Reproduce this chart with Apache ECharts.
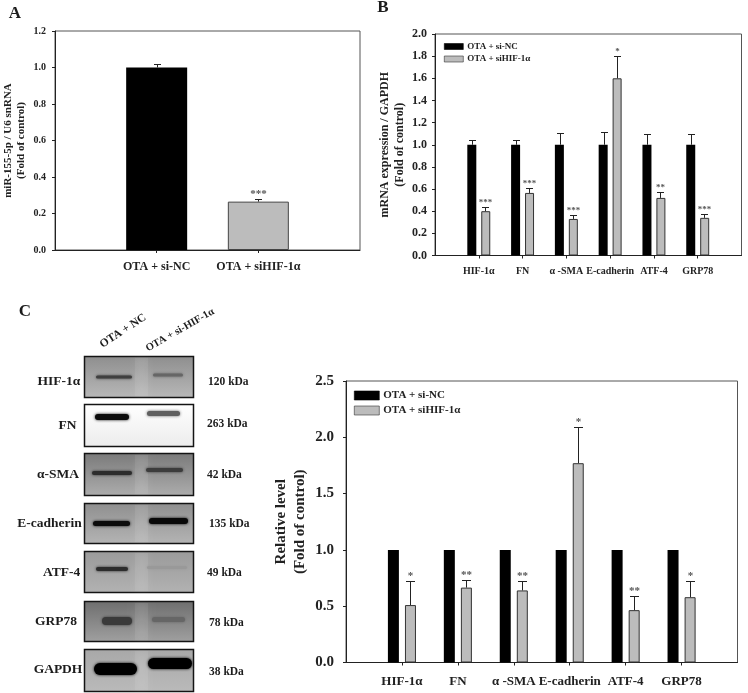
<!DOCTYPE html>
<html>
<head>
<meta charset="utf-8">
<style>html,body{margin:0;padding:0;background:#fff}#c{width:748px;height:693px}</style>
<script src="https://cdn.jsdelivr.net/npm/echarts@6/dist/echarts.min.js"></script>
</head>
<body>
<div id="c"></div>
<script>
const FONT = '"Liberation Serif","Times New Roman",serif';
const INK = '#222222';
const GRAY = '#bcbcbc';
const NC = 'OTA + si-NC';
const SI = 'OTA + siHIF-1\u03b1';

// Panel A
const catsA = ['OTA + si-NC', 'OTA + siHIF-1\u03b1'];
const valsA = [1.0, 0.265];
const topsA = [1.02, 0.28];
const starsA = ['', '***'];

// Panels B and C share their categories
const catsBC = ['HIF-1\u03b1', 'FN', '\u03b1 -SMA', 'E-cadherin', 'ATF-4', 'GRP78'];

// Panel B
const ncB = [1, 1, 1, 1, 1, 1];
const ncTopsB = [1.045, 1.045, 1.11, 1.115, 1.10, 1.10];
const siB = [0.40, 0.565, 0.33, 1.60, 0.52, 0.34];
const siTopsB = [0.435, 0.61, 0.37, 1.80, 0.575, 0.375];
const starsB = ['***', '***', '***', '*', '**', '***'];

// Panel C
const ncC = [1, 1, 1, 1, 1, 1];
const siC = [0.51, 0.665, 0.64, 1.77, 0.465, 0.58];
const siTopsC = [0.72, 0.735, 0.72, 2.09, 0.59, 0.72];
const starsC = ['*', '**', '**', '*', '**', '*'];

// Western blot panel (decoration, not data)
const blotNames = ['HIF-1\u03b1', 'FN', '\u03b1-SMA', 'E-cadherin', 'ATF-4', 'GRP78', 'GAPDH'];
const blotNameX = [59, 67.6, 58, 49.5, 61.6, 56, 58];
const blotNameY = [382, 426, 475, 524, 573, 622, 670];
const blotSizes = ['120 kDa', '263 kDa', '42 kDa', '135 kDa', '49 kDa', '78 kDa', '38 kDa'];
const blotSizeX = [208, 207, 207, 209, 207, 209, 209];
const blotSizeY = [382, 424, 475, 524, 573, 623, 672];
const blotTops = [356, 404, 453, 503, 551, 601, 649];
const blotHeights = [41, 42, 42, 40, 41, 40, 42];
const blotBgTop = ['#8e8e8e', '#ffffff', '#7a7a7a', '#8f8f8f', '#9a9a9a', '#6e6e6e', '#a8a8a8'];
const blotBgBottom = ['#b8b8b8', '#ececec', '#adadad', '#b4b4b4', '#b2b2b2', '#a0a0a0', '#bababa'];
const blotLaneA = [[96,375.5,36,3,'#3f3f3f'],[95,414,34,6,'#0c0c0c'],[92,471,40,4,'#2c2c2c'],[93,521,37,5,'#0c0c0c'],[96,567,32,4,'#2c2c2c'],[102,617,30,8,'#3a3a3a'],[94,663,43,12,'#000000']];
const blotLaneB = [[153,373.5,30,3,'#666666'],[147,411,33,5,'#606060'],[146,468,37,4,'#3c3c3c'],[149,518,39,6,'#080808'],[147,566,40,3,'#999999'],[152,617,33,5,'#666666'],[148,658,44,11,'#000000']];

const pad = a => [null, ...a, null];
const padCats = a => ['', ...a, ''];

function axes(gridIndex, cats, max, interval, labelSize, labelMargin, tickSize, tickMargin, nameText, nameSize, nameGap, lineH) {
  return {
    x: {
      type: 'category', gridIndex, data: padCats(cats), boundaryGap: false,
      axisLine: { show: true, onZero: false, lineStyle: { color: INK, width: 1 } },
      axisTick: { show: true, length: 3, interval: (i, v) => v !== '', lineStyle: { color: INK } },
      axisLabel: { interval: 0, margin: tickMargin, fontFamily: FONT, fontWeight: 'bold', fontSize: tickSize, color: INK, hideOverlap: false },
      splitLine: { show: false }
    },
    y: {
      type: 'value', gridIndex, min: 0, max, interval,
      name: nameText, nameLocation: 'middle', nameRotate: 90, nameGap, nameMoveOverlap: false,
      nameTextStyle: { fontFamily: FONT, fontWeight: 'bold', fontSize: nameSize, color: INK, lineHeight: lineH, align: 'center' },
      axisLine: { show: true, lineStyle: { color: INK, width: 1 } },
      axisTick: { show: true, length: 3, lineStyle: { color: INK } },
      axisLabel: { margin: labelMargin, fontFamily: FONT, fontWeight: 'bold', fontSize: labelSize, color: INK, formatter: v => v.toFixed(1) },
      splitLine: { show: false }
    }
  };
}

function errorSeries(axisIdx, means, tops, stars, offset, capHalf, starSize, starLift) {
  return {
    type: 'custom', name: 'error' + axisIdx + offset, xAxisIndex: axisIdx, yAxisIndex: axisIdx, z: 5,
    clip: false, silent: true,
    data: means.map((m, i) => [i + 1, tops[i], m]),
    encode: { x: 0, y: 1 },
    renderItem(params, api) {
      const i = api.value(0);
      const t = api.coord([i, api.value(1)]);
      const b = api.coord([i, api.value(2)]);
      const x = Math.round(t[0] + offset) + 0.5;
      const yt = Math.round(t[1]) + 0.5;
      const ls = { stroke: INK, lineWidth: 1, fill: null };
      return {
        type: 'group',
        children: [
          { type: 'line', shape: { x1: x, y1: b[1], x2: x, y2: yt }, style: ls },
          { type: 'line', shape: { x1: x - capHalf, y1: yt, x2: x + capHalf, y2: yt }, style: ls },
          { type: 'text', style: { text: stars[params.dataIndex] || '', x: x, y: yt - starLift, align: 'center', verticalAlign: 'bottom', fill: '#555555', font: 'bold ' + starSize + 'px ' + FONT } }
        ]
      };
    }
  };
}

function barSeries(axisIdx, name, vals, color, width, gap) {
  return {
    type: 'bar', name, xAxisIndex: axisIdx, yAxisIndex: axisIdx, data: pad(vals),
    barWidth: width, barGap: gap,
    itemStyle: { color, borderColor: color === GRAY ? '#333333' : '#000000', borderWidth: color === GRAY ? 1 : 0 }
  };
}

const axA = axes(0, catsA, 1.2, 0.2, 10, 9, 12, 11, 'miR-155-5p / U6 snRNA\n(Fold of control)', 11, 27, 13);
const axB = axes(1, catsBC, 2.0, 0.2, 12, 8, 10, 11, 'mRNA expression / GAPDH\n(Fold of control)', 12, 28, 14.5);
const axC = axes(2, catsBC, 2.5, 0.5, 15, 12, 13, 13, 'Relative level\n(Fold of control)', 15, 36.5, 19);

function legend(left, top, w, h, gap, size) {
  return {
    left, top, orient: 'vertical', data: [NC, SI], icon: 'rect', itemWidth: w, itemHeight: h, itemGap: gap,
    padding: 0, selectedMode: false,
    itemStyle: { borderWidth: 0.6 },
    textStyle: { fontFamily: FONT, fontWeight: 'bold', fontSize: size, color: INK, padding: [0, 0, 0, -1] }
  };
}

const graphic = [];
function text(t, x, y, size, align, rotation) {
  const g = { type: 'text', x, y, z: 10, silent: true, style: { text: t, align: align || 'left', verticalAlign: 'middle', fill: '#1c1c1c', font: 'bold ' + size + 'px ' + FONT } };
  if (rotation) g.rotation = rotation;
  graphic.push(g);
}
text('A', 15, 14, 17, 'center');
text('B', 383, 8, 17, 'center');
text('C', 25, 312, 17, 'center');
text('OTA + NC', 123, 331, 11.5, 'center', 0.58);
text('OTA + si-HIF-1\u03b1', 180, 330, 10.5, 'center', 0.52);
blotNames.forEach((n, i) => {
  const top = blotTops[i], h = blotHeights[i];
  graphic.push({ type: 'rect', silent: true, z: 6, shape: { x: 84.5, y: top + 0.5, width: 109, height: h },
    style: { fill: { type: 'linear', x: 0, y: 0, x2: 0, y2: 1, colorStops: [{ offset: 0, color: blotBgTop[i] }, { offset: 1, color: blotBgBottom[i] }] }, stroke: '#141414', lineWidth: 1.5 } });
  if (i !== 1) {
    graphic.push({ type: 'rect', silent: true, z: 6, shape: { x: 135, y: top + 2, width: 13, height: h - 3 },
      style: { fill: '#ffffff', opacity: 0.07, shadowBlur: 6, shadowColor: '#ffffff' } });
  }
  [blotLaneA[i], blotLaneB[i]].forEach(b => {
    graphic.push({ type: 'rect', silent: true, z: 7, shape: { x: b[0], y: b[1], width: b[2], height: b[3], r: b[3] / 2 },
      style: { fill: b[4], shadowBlur: 3, shadowColor: b[4] } });
  });
  text(n, blotNameX[i], blotNameY[i], 13.5, 'center');
  text(blotSizes[i], blotSizeX[i], blotSizeY[i], 11.5, 'left');
});

const option = {
  animation: false,
  backgroundColor: '#ffffff',
  grid: [
    { left: 55, top: 31, width: 305, height: 219, outerBoundsMode: 'none', show: true, borderColor: '#555555', borderWidth: 1, backgroundColor: 'transparent' },
    { left: 435, top: 34, width: 306.5, height: 221.5, outerBoundsMode: 'none', show: true, borderColor: '#555555', borderWidth: 1, backgroundColor: 'transparent' },
    { left: 346, top: 381, width: 391.5, height: 281.5, outerBoundsMode: 'none', show: true, borderColor: '#555555', borderWidth: 1, backgroundColor: 'transparent' }
  ],
  xAxis: [axA.x, axB.x, axC.x],
  yAxis: [axA.y, axB.y, axC.y],
  legend: [legend(444, 42, 19, 6, 3.5, 9), legend(354, 390, 25, 9, 4, 11)],
  graphic,
  series: [
    {
      type: 'bar', name: 'miR-155-5p', xAxisIndex: 0, yAxisIndex: 0, barWidth: 61,
      data: pad(valsA.map((v, i) => ({ value: v, itemStyle: i === 0 ? { color: '#000000' } : { color: GRAY, borderColor: '#444444', borderWidth: 1 } })))
    },
    errorSeries(0, valsA, topsA, starsA, 0, 3.5, 11, 0),
    barSeries(1, NC, ncB, '#000000', 9, '55%'),
    barSeries(1, SI, siB, GRAY, 9, '55%'),
    errorSeries(1, ncB, ncTopsB, [], -6.5, 3.5, 9, 0),
    errorSeries(1, siB, siTopsB, starsB, 6.5, 3.5, 9, 0),
    barSeries(2, NC, ncC, '#000000', 11, '55%'),
    barSeries(2, SI, siC, GRAY, 11, '55%'),
    errorSeries(2, siC, siTopsC, starsC, 8.5, 4.5, 11, 0)
  ]
};
echarts.init(document.getElementById('c'), null, { renderer: 'canvas' }).setOption(option);
</script>
</body>
</html>
